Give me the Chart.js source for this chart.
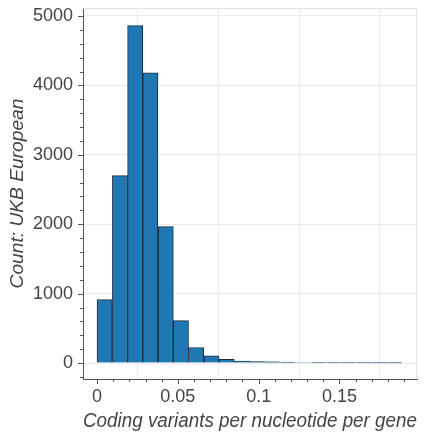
<!DOCTYPE html>
<html>
<head>
<meta charset="utf-8">
<script src="https://cdn.jsdelivr.net/npm/chart.js@4.4.1/dist/chart.umd.min.js"></script>
<style>
  html, body { margin: 0; padding: 0; background: #fff; }
  #hist { display: block; }
</style>
</head>
<body>
<canvas id="hist" width="428" height="434"></canvas>
<script>
// histogram bin centres (coding variants per nucleotide per gene)
const binCenters = [0.0047, 0.0142, 0.0236, 0.0330, 0.0425, 0.0519, 0.0613, 0.0708, 0.0802, 0.0897,
                    0.0991, 0.1085, 0.1180, 0.1274, 0.1369, 0.1463, 0.1557, 0.1652, 0.1746, 0.1840]
// gene counts per bin
const geneCounts = [915, 2700, 4860, 4180, 1965, 612, 224, 104, 52, 29,
                    22, 19, 12, 8, 6, 5, 4, 4, 3, 3]

const xMajor = [0, 0.05, 0.1, 0.15]
const yMajor = [0, 1000, 2000, 3000, 4000, 5000]

const fontFamily = "'Liberation Sans', Arial, Helvetica, sans-serif"
const gridColor = '#ebebeb'
const axisColor = '#555'

const isMajor = (v, list) => list.some(m => Math.abs(m - v) < 1e-9)

// minor + major tick marks, plus the light frame round the plot
const tickMarks = {
  id: 'tickMarks',
  beforeDatasetsDraw(chart) {
    const {ctx, chartArea: a} = chart
    ctx.save()
    ctx.strokeStyle = '#e3e3e3'
    ctx.lineWidth = 1
    ctx.beginPath()
    ctx.moveTo(a.left, a.top + 0.5)
    ctx.lineTo(a.right - 0.5, a.top + 0.5)
    ctx.lineTo(a.right - 0.5, a.bottom)
    ctx.stroke()
    ctx.restore()
  },
  afterDraw(chart) {
    const {ctx, chartArea: a, scales: {x, y}} = chart
    ctx.save()
    ctx.strokeStyle = axisColor
    ctx.lineWidth = 1
    ctx.beginPath()
    for (let i = 0; i <= 19; i++) {
      const v = i / 100
      const px = Math.round(x.getPixelForValue(v)) + 0.5
      const len = isMajor(v, xMajor) ? 5 : 3
      ctx.moveTo(px, a.bottom)
      ctx.lineTo(px, a.bottom + len)
    }
    for (let v = -200; v <= 5000; v += 200) {
      const py = Math.round(y.getPixelForValue(v)) + 0.5
      const len = isMajor(v, yMajor) ? 5 : 3
      ctx.moveTo(a.left, py)
      ctx.lineTo(a.left - len, py)
    }
    ctx.stroke()
    ctx.restore()
  }
}

const histChart = new Chart(document.getElementById('hist'), {
  type: 'bar',
  data: {
    datasets: [{
      data: binCenters.map((c, i) => ({x: c, y: geneCounts[i]})),
      backgroundColor: '#1f77b4',
      borderColor: '#1b2a38',
      borderWidth: 1,
      barPercentage: 1,
      categoryPercentage: 1
    }]
  },
  options: {
    responsive: false,
    animation: false,
    layout: {padding: {top: 8, right: 11, left: 0, bottom: 0}},
    plugins: {legend: {display: false}, tooltip: {enabled: false}},
    scales: {
      x: {
        type: 'linear',
        offset: false,
        min: -0.0087,
        max: 0.198,
        afterBuildTicks: s => { s.ticks = xMajor.map(v => ({value: v})) },
        afterFit: s => { s.height = 55; s.paddingLeft = 0; s.paddingRight = 0 },
        grid: {color: gridColor, drawTicks: false},
        border: {color: axisColor},
        ticks: {
          autoSkip: false,
          maxRotation: 0,
          padding: 7,
          color: '#444',
          font: {family: fontFamily, size: 18},
          callback: v => String(+v.toFixed(2))
        },
        title: {
          display: true,
          text: 'Coding variants per nucleotide per gene',
          color: '#444',
          padding: {top: 0, bottom: 1},
          font: {family: fontFamily, size: 20, style: 'italic'}
        }
      },
      y: {
        min: -230,
        max: 5115,
        afterBuildTicks: s => { s.ticks = yMajor.map(v => ({value: v})) },
        afterFit: s => { s.width = 83; s.paddingTop = 0; s.paddingBottom = 0 },
        grid: {color: gridColor, drawTicks: false},
        border: {color: axisColor},
        ticks: {
          padding: 10,
          color: '#444',
          font: {family: fontFamily, size: 18},
          callback: v => String(v)
        },
        title: {
          display: true,
          text: 'Count: UKB European',
          color: '#444',
          padding: {top: 6.5, bottom: 0},
          font: {family: fontFamily, size: 19.2, style: 'italic'}
        }
      }
    }
  },
  plugins: [tickMarks]
})
</script>
</body>
</html>
